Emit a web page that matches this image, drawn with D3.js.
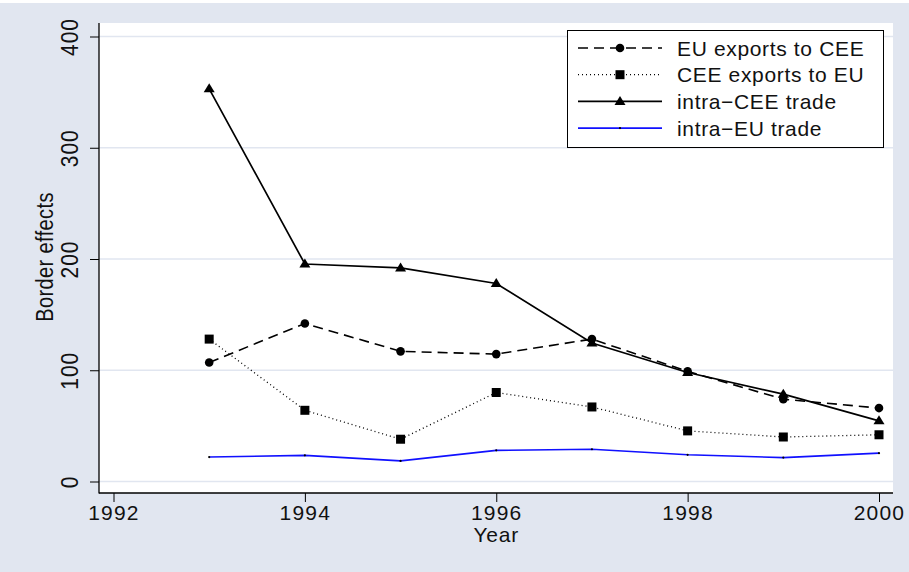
<!DOCTYPE html>
<html>
<head>
<meta charset="utf-8">
<script src="https://cdn.jsdelivr.net/npm/d3@7"></script>
<style>
  html, body { margin: 0; padding: 0; background: #ffffff; }
  svg { display: block; }
  text { font-family: "Liberation Sans", Arial, Helvetica, sans-serif; fill: #111; }
</style>
</head>
<body>
<script>
// Border effects by year, 1993–2000
const years = [1993, 1994, 1995, 1996, 1997, 1998, 1999, 2000];
const euExportsToCEE = [107, 142, 117, 114.5, 128, 99, 74, 66];
const ceeExportsToEU = [128, 64, 38, 80, 67, 45.5, 40, 42];
const intraCEE = [353, 195.5, 192, 178, 124.5, 98, 78.5, 54.5];
const intraEU = [22, 23.5, 18.5, 28, 29, 24, 21.5, 25.5];

const xTicks = [1992, 1994, 1996, 1998, 2000];
const yTicks = [0, 100, 200, 300, 400];
const seriesNames = ["EU exports to CEE", "CEE exports to EU", "intra\u2212CEE trade", "intra\u2212EU trade"];

const W = 909, H = 572;
const svg = d3.select("body").append("svg").attr("width", W).attr("height", H);

// outer graph region
svg.append("rect").attr("x", 0).attr("y", 3).attr("width", W).attr("height", H - 3)
  .attr("fill", "#e1e6f0");

// plot region
const plot = { left: 99, right: 893, top: 23, bottom: 493 };
svg.append("rect").attr("x", plot.left).attr("y", plot.top)
  .attr("width", plot.right - plot.left).attr("height", plot.bottom - plot.top)
  .attr("fill", "#ffffff");

const x = d3.scaleLinear().domain([1992, 2000]).range([113.5, 879]);
const y = d3.scaleLinear().domain([0, 400]).range([481.5, 36.5]);

// horizontal grid lines
svg.append("g").selectAll("line").data(yTicks).join("line")
  .attr("x1", plot.left).attr("x2", plot.right)
  .attr("y1", d => y(d)).attr("y2", d => y(d))
  .attr("stroke", "#e1e6f0").attr("stroke-width", 1.5);

// y axis
const yAxis = svg.append("g").attr("transform", `translate(${plot.left},0)`)
  .call(d3.axisLeft(y).tickValues(yTicks).tickSize(9).tickFormat(d3.format("d")));
yAxis.select(".domain").remove();
yAxis.selectAll(".tick line").attr("stroke", "#000").attr("stroke-width", 1);
yAxis.selectAll(".tick text")
  .attr("font-size", 21).attr("fill", "#111").attr("letter-spacing", 1)
  .attr("x", null).attr("dy", null)
  .attr("text-anchor", "middle")
  .attr("transform", "translate(-21,0) rotate(-90) scale(1,1.15)")
  .attr("y", 0);
svg.append("line").attr("x1", plot.left).attr("x2", plot.left)
  .attr("y1", plot.top).attr("y2", plot.bottom + 0.5)
  .attr("stroke", "#000").attr("stroke-width", 1.3);

// x axis
const xAxis = svg.append("g").attr("transform", `translate(0,${plot.bottom})`)
  .call(d3.axisBottom(x).tickValues(xTicks).tickSize(9).tickFormat(d3.format("d")));
xAxis.select(".domain").remove();
xAxis.selectAll(".tick line").attr("stroke", "#000").attr("stroke-width", 1);
xAxis.selectAll(".tick text").attr("font-size", 21).attr("fill", "#111")
  .attr("letter-spacing", 1.2).attr("y", 27).attr("dy", null);
svg.append("line").attr("x1", plot.left).attr("x2", plot.right)
  .attr("y1", plot.bottom).attr("y2", plot.bottom)
  .attr("stroke", "#000").attr("stroke-width", 1.3);

// axis titles
svg.append("text").attr("x", x(1996)).attr("y", 542)
  .attr("text-anchor", "middle").attr("font-size", 21).attr("letter-spacing", 0.8).text("Year");
svg.append("text")
  .attr("transform", `translate(53,${y(200) - 2}) rotate(-90) scale(1,1.15)`)
  .attr("text-anchor", "middle").attr("font-size", 20).attr("letter-spacing", 0.4).text("Border effects");

// series
const line = d3.line().x(d => x(d[0])).y(d => y(d[1]));
const zip = vals => years.map((yr, i) => [yr, vals[i]]);

const styles = [
  { vals: euExportsToCEE, stroke: "#000", width: 1.6, dash: "10,6", marker: "circle" },
  { vals: ceeExportsToEU, stroke: "#000", width: 1.3, dash: "1,3", marker: "square" },
  { vals: intraCEE, stroke: "#000", width: 1.7, dash: null, marker: "triangle" },
  { vals: intraEU, stroke: "#1010ff", width: 1.6, dash: null, marker: "dot" }
];

function drawMarker(g, kind, cx, cy) {
  if (kind === "circle") {
    g.append("circle").attr("cx", cx).attr("cy", cy).attr("r", 4.3).attr("fill", "#000");
  } else if (kind === "square") {
    g.append("rect").attr("x", cx - 4.5).attr("y", cy - 4.5).attr("width", 9).attr("height", 9).attr("fill", "#000");
  } else if (kind === "triangle") {
    g.append("path").attr("d", `M${cx},${cy - 5.5}L${cx + 5.5},${cy + 3.5}L${cx - 5.5},${cy + 3.5}Z`).attr("fill", "#000");
  } else {
    g.append("circle").attr("cx", cx).attr("cy", cy).attr("r", 1.1).attr("fill", "#000");
  }
}

styles.forEach(s => {
  const pts = zip(s.vals);
  svg.append("path").datum(pts).attr("d", line)
    .attr("fill", "none").attr("stroke", s.stroke).attr("stroke-width", s.width)
    .attr("stroke-dasharray", s.dash);
  const mg = svg.append("g");
  pts.forEach(p => drawMarker(mg, s.marker, x(p[0]), y(p[1])));
});

// legend
const lg = svg.append("g");
lg.append("rect").attr("x", 567.5).attr("y", 30.5).attr("width", 316).attr("height", 117)
  .attr("fill", "#ffffff").attr("stroke", "#000").attr("stroke-width", 1);
styles.forEach((s, i) => {
  const cy = 48 + i * 26.7;
  lg.append("line").attr("x1", 578).attr("x2", 662).attr("y1", cy).attr("y2", cy)
    .attr("stroke", s.stroke).attr("stroke-width", s.width).attr("stroke-dasharray", s.dash);
  drawMarker(lg, s.marker, 620, cy);
  lg.append("text").attr("x", 677).attr("y", cy).attr("dy", "0.36em")
    .attr("font-size", 21).attr("letter-spacing", 0.65).text(seriesNames[i]);
});
</script>
</body>
</html>
